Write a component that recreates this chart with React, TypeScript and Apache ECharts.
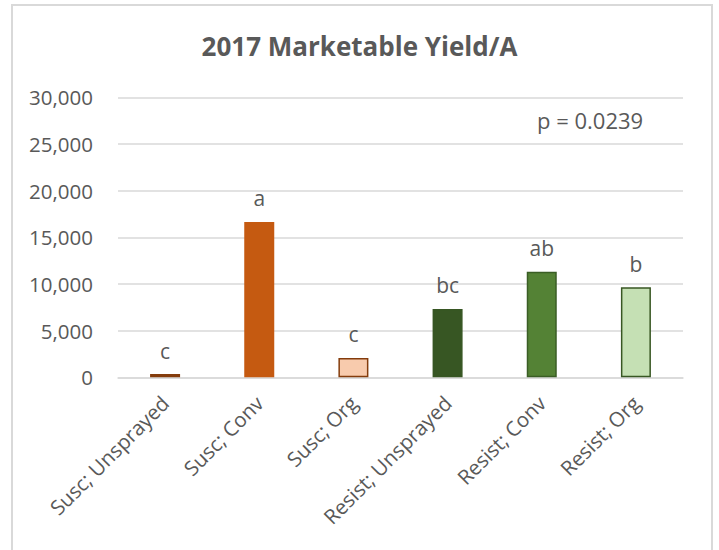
import React, { useEffect, useRef } from "react";
import * as echarts from "echarts";

const categories = ["Susc; Unsprayed", "Susc; Conv", "Susc; Org", "Resist; Unsprayed", "Resist; Conv", "Resist; Org"];
const yieldValues = [350, 16640, 2070, 7320, 11310, 9640];
const letters = ["c", "a", "c", "bc", "ab", "b"];
const fillColors = ["#843C0C", "#C55A11", "#F8CBAD", "#375623", "#548235", "#C5E0B4"];
const borderColors = ["#843C0C", "#C55A11", "#843C0C", "#375623", "#3A5E25", "#385723"];
const yTicks = [0, 5000, 10000, 15000, 20000, 25000, 30000];

const FONT = "'Open Sans', sans-serif";
const TXT = "#595959";

export default function App() {
  const ref = useRef<HTMLDivElement>(null);
  useEffect(() => {
    if (!ref.current) return;
    const chart = echarts.init(ref.current, null, { renderer: "svg" });
    chart.setOption({
      animation: false,
      backgroundColor: "#ffffff",
      title: {
        text: "2017 Marketable Yield/A",
        left: "center",
        top: 28,
        textStyle: { fontFamily: FONT, fontSize: 26, fontWeight: "bold", color: TXT },
      },
      graphic: [
        {
          type: "rect",
          shape: { x: 12, y: 5, width: 700, height: 580 },
          style: { fill: "none", stroke: "#d9d9d9", lineWidth: 2 },
          silent: true,
        },
        {
          type: "text",
          left: 537,
          top: 109,
          style: { text: "p = 0.0239", fontFamily: FONT, fontSize: 22, fill: TXT },
        },
      ],
      grid: { left: 118, right: 36, top: 97.3, bottom: 172.7, containLabel: false },
      xAxis: {
        type: "category",
        data: categories,
        axisLine: { show: true, lineStyle: { color: "#d9d9d9", width: 1.5 } },
        axisTick: { show: false },
        axisLabel: {
          rotate: 45,
          interval: 0,
          margin: 22,
          fontFamily: FONT,
          fontSize: 20.5,
          color: TXT,
        },
      },
      yAxis: {
        type: "value",
        min: 0,
        max: 30000,
        interval: 5000,
        axisLine: { show: false },
        axisTick: { show: false },
        splitLine: { lineStyle: { color: "#d9d9d9", width: 1.5 } },
        axisLabel: {
          margin: 25,
          fontFamily: FONT,
          fontSize: 20.5,
          color: TXT,
          formatter: (v: number) => (yTicks.includes(v) ? v.toLocaleString("en-US") : ""),
        },
      },
      series: [
        {
          type: "bar",
          barWidth: 30,
          data: yieldValues.map((v, i) => ({
            value: v,
            itemStyle: { color: fillColors[i], borderColor: borderColors[i], borderWidth: 1.5 },
            label: { formatter: letters[i] },
          })),
          label: {
            show: true,
            position: "top",
            distance: 13,
            fontFamily: FONT,
            fontSize: 21,
            color: TXT,
          },
        },
      ],
    });
    return () => chart.dispose();
  }, []);
  return <div ref={ref} style={{ position: "fixed", left: 0, top: 0, width: 719, height: 550 }} />;
}
